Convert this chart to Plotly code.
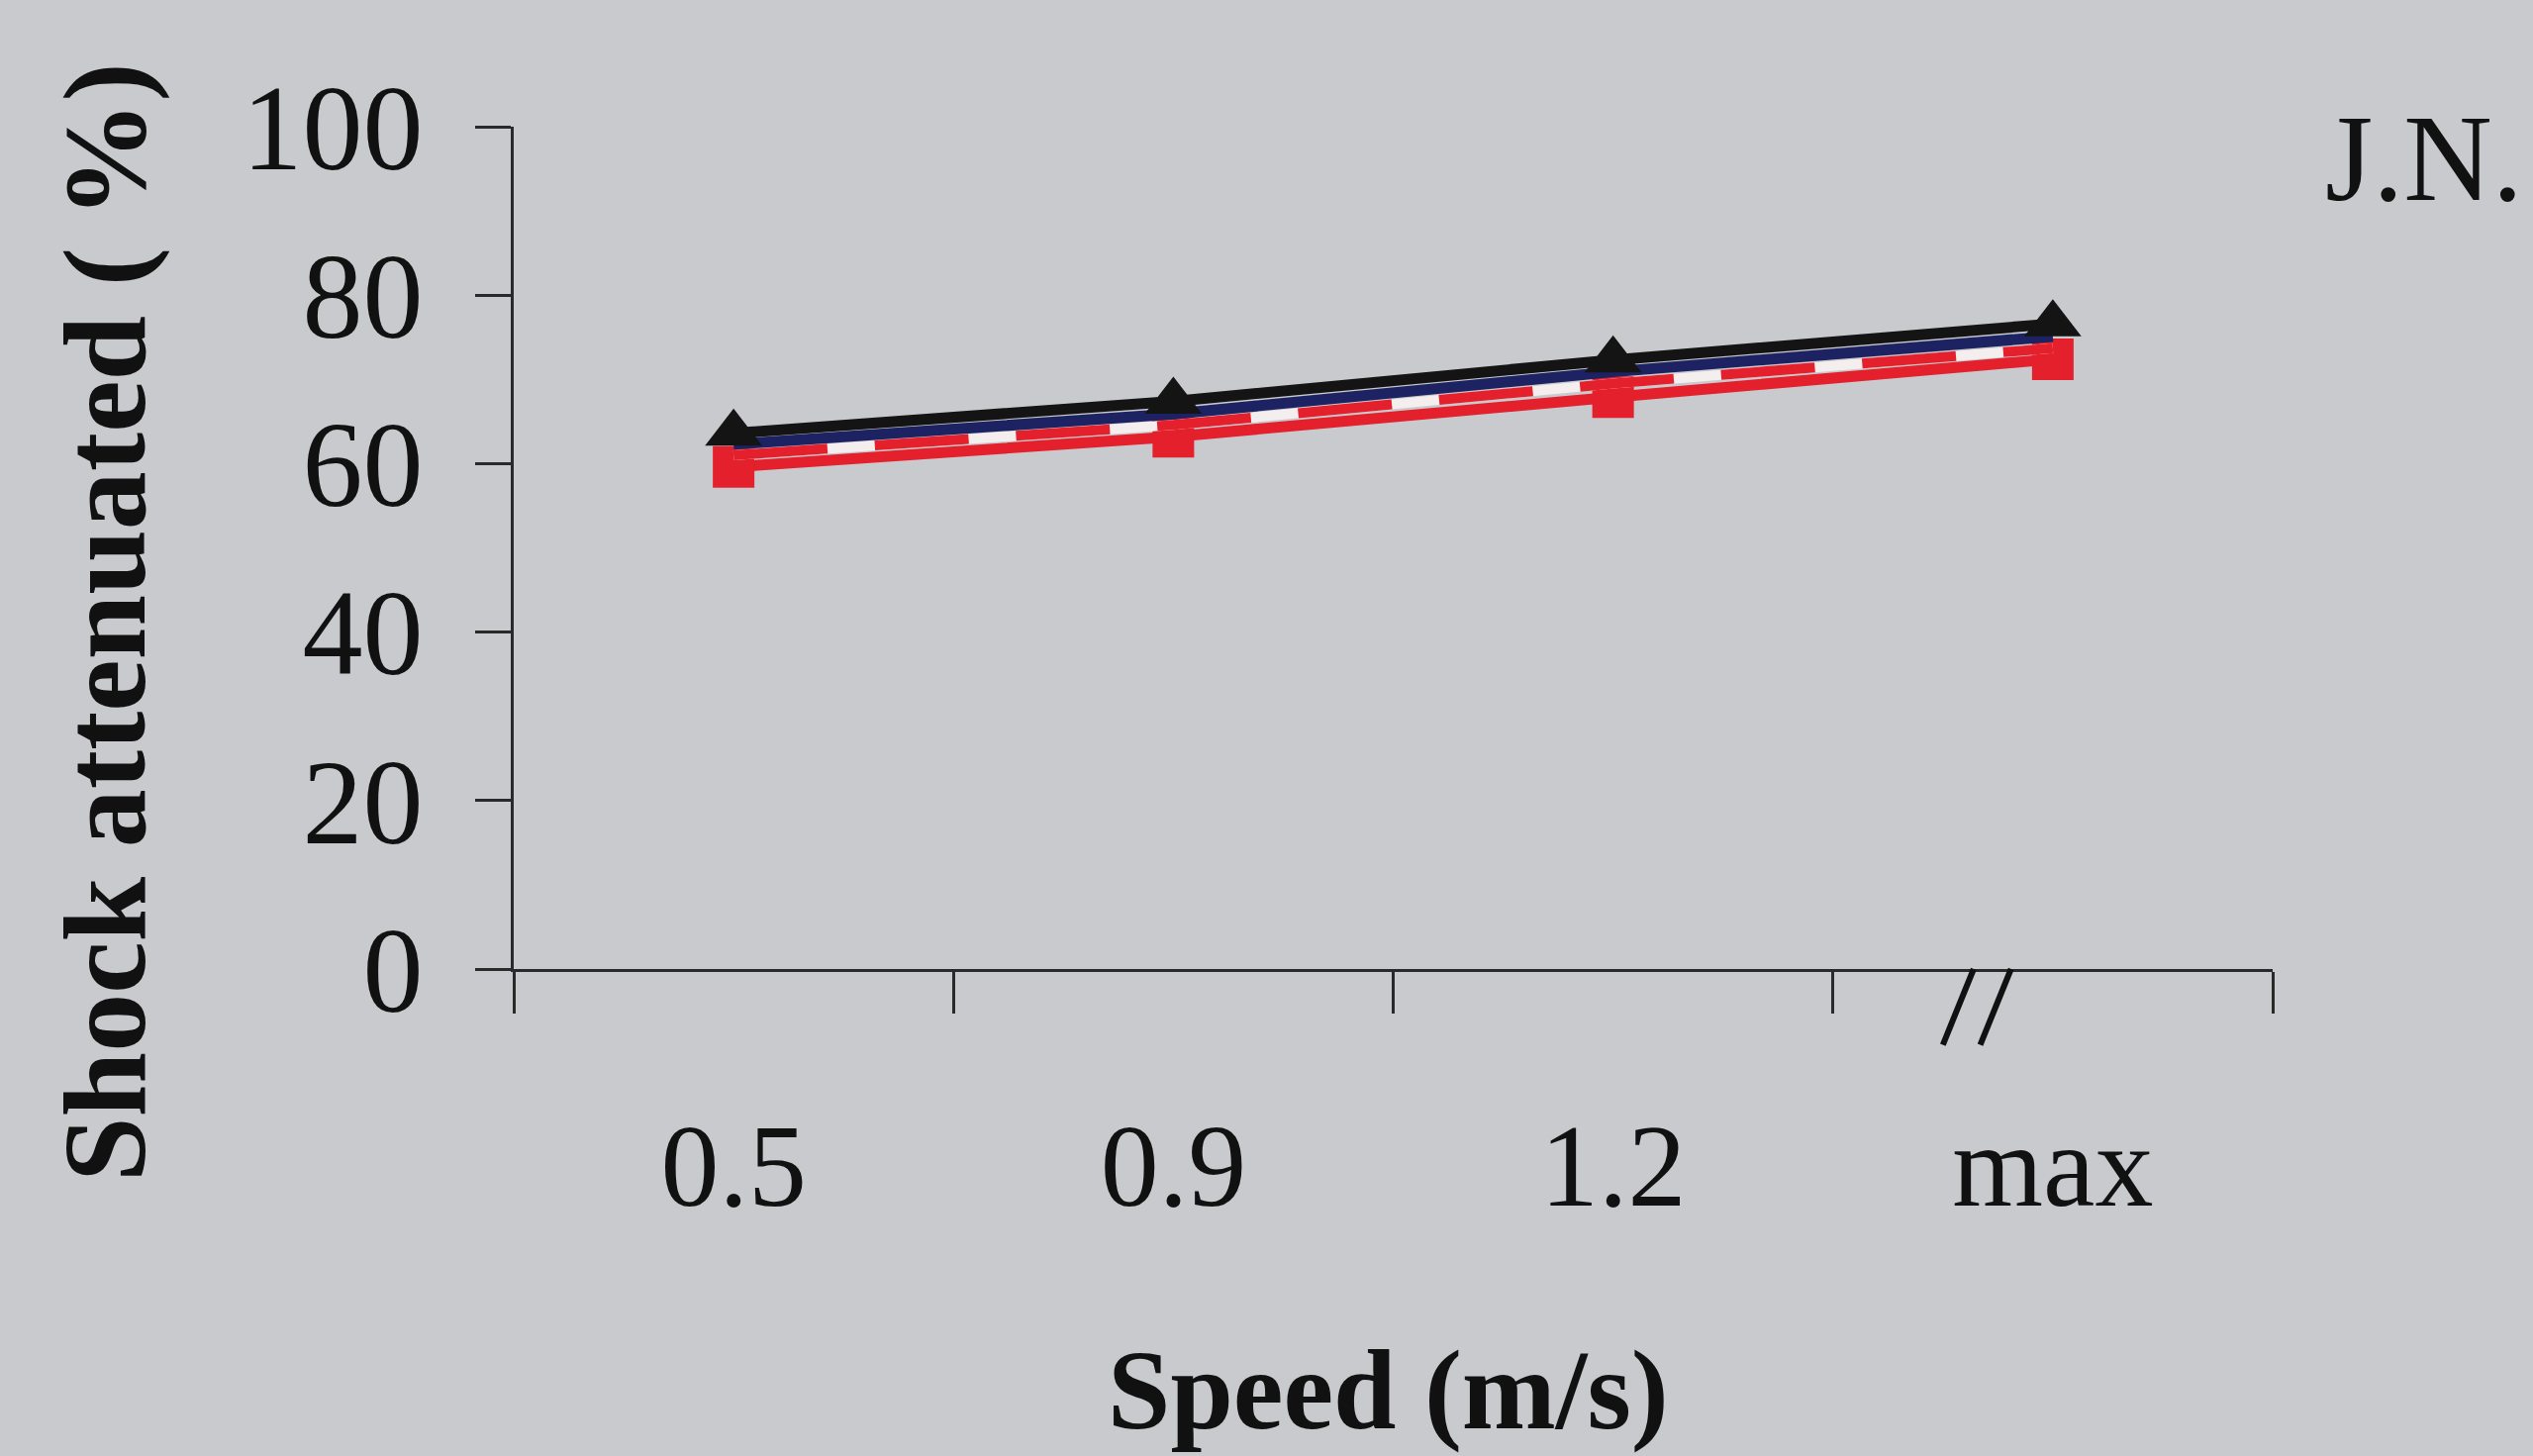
import plotly.graph_objects as go

# speed categories and shock attenuation (%)
speeds = ['0.5', '0.9', '1.2', 'max']
black_tri = [63.6, 67.4, 72.3, 76.6]
navy_line = [62.3, 65.9, 70.9, 75.1]
red_dash = [61.0, 64.6, 69.5, 73.7]
red_sq = [59.6, 63.2, 67.9, 72.4]
y_ticks = [0, 20, 40, 60, 80, 100]

serif = 'Liberation Serif'
bg = '#c9cacd'
ink = '#111111'

fig = go.Figure()

# red line with squares (bottom)
fig.add_trace(go.Scatter(
    x=speeds, y=red_sq, mode='lines+markers',
    line=dict(color='#e3202c', width=11),
    marker=dict(symbol='square', size=42, color='#e3202c'),
))
# red/white dashed line
fig.add_trace(go.Scatter(
    x=speeds, y=red_dash, mode='lines',
    line=dict(color='#f4eeee', width=10),
))
fig.add_trace(go.Scatter(
    x=speeds, y=red_dash, mode='lines',
    line=dict(color='#e3202c', width=10, dash='95px,48px'),
))
# navy line
fig.add_trace(go.Scatter(
    x=speeds, y=navy_line, mode='lines',
    line=dict(color='#1c2262', width=11),
))
# black line with triangles (top)
fig.add_trace(go.Scatter(
    x=speeds, y=black_tri, mode='lines+markers',
    line=dict(color='#141414', width=11),
    marker=dict(symbol='triangle-up', size=50, color='#141414'),
))

# axis break marks "//"
for x0 in [2.75, 2.835]:
    fig.add_shape(type='line', xref='x', yref='paper',
                  x0=x0, y0=-0.09, x1=x0 + 0.07, y1=0.0,
                  line=dict(color=ink, width=6))

fig.add_annotation(text='<b>Shock attenuated ( %)</b>', xref='paper', yref='paper',
                   x=-0.232, y=0.412, xanchor='center', yanchor='middle',
                   textangle=-90, showarrow=False,
                   font=dict(family=serif, size=118, color=ink))
fig.add_annotation(text='<b>Speed (m/s)</b>', xref='paper', yref='paper',
                   x=0.497, y=-0.5, xanchor='center', yanchor='middle',
                   showarrow=False,
                   font=dict(family=serif, size=114, color=ink))
fig.add_annotation(text='J.N.', xref='paper', yref='paper',
                   x=1.086, y=0.962, xanchor='center', yanchor='middle',
                   showarrow=False,
                   font=dict(family=serif, size=124, color=ink))

fig.update_layout(
    width=2559, height=1471,
    margin=dict(l=519, r=263, t=128, b=492),
    paper_bgcolor=bg, plot_bgcolor=bg,
    showlegend=False,
    xaxis=dict(
        type='category', range=[-0.5, 3.5], tickson='boundaries',
        ticks='outside', ticklen=42, tickwidth=3, tickcolor='#2a2a2a',
        showline=True, linecolor='#2a2a2a', linewidth=3,
        showgrid=False, zeroline=False, ticklabelstandoff=94,
        tickfont=dict(family=serif, size=118, color=ink),
    ),
    yaxis=dict(
        range=[0, 100], tickvals=y_ticks,
        ticks='outside', ticklen=36, tickwidth=3, tickcolor='#2a2a2a',
        showline=True, linecolor='#2a2a2a', linewidth=3,
        showgrid=False, zeroline=False, ticklabelstandoff=28,
        tickfont=dict(family=serif, size=122, color=ink),
    ),
)

fig.write_html('out.html', config={'displayModeBar': False},
               post_script="document.body.style.margin='0';"
                           "document.body.style.background='#c9cacd';")
